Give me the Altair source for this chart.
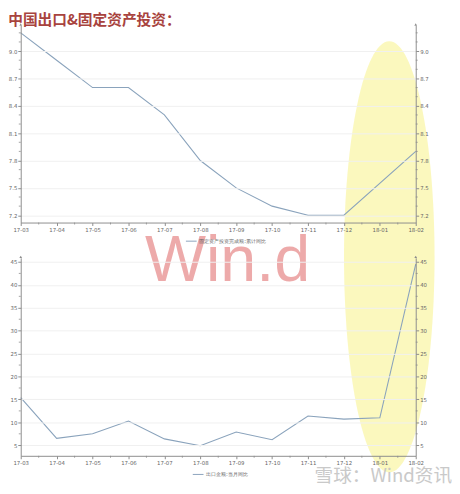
import altair as alt
import pandas as pd

# ---------------- data ----------------
months = ["17-03", "17-04", "17-05", "17-06", "17-07", "17-08", "17-09",
          "17-10", "17-11", "17-12", "18-01", "18-02"]
fai_months = ["17-03", "17-04", "17-05", "17-06", "17-07", "17-08", "17-09",
              "17-10", "17-11", "17-12", "18-02"]
fai_values = [9.2, 8.9, 8.6, 8.6, 8.3, 7.8, 7.5, 7.3, 7.2, 7.2, 7.9]
export_values = [15.4, 6.5, 7.5, 10.3, 6.4, 4.9, 7.9, 6.2, 11.4, 10.7, 11.0, 44.5]

fai_ticks = [7.2, 7.5, 7.8, 8.1, 8.4, 8.7, 9.0]
fai_minor = [7.3, 7.4, 7.6, 7.7, 7.9, 8.0, 8.2, 8.3, 8.5, 8.6, 8.8, 8.9, 9.1, 9.2]
export_ticks = [5, 10, 15, 20, 25, 30, 35, 40, 45]
export_minor = [7.5, 12.5, 17.5, 22.5, 27.5, 32.5, 37.5, 42.5]

fai_domain = [7.12, 9.28]
export_domain = [2.7, 45.9]

fai_label = "固定资产投资完成额:累计同比"
export_label = "出口金额:当月同比"
title_text = "中国出口&固定资产投资："
watermark = "Win.d"
watermark2 = "雪球：Wind资讯"

# ---------------- style ----------------
W = 403
H1 = 201
H2 = 202
LINE = "#8aa3bc"
AXIS = "#8c8c8c"
LABEL = "#666666"
FONT = "DejaVu Sans"
ELLIPSE = "M -0.21 0 A 0.21 1 0 1 1 0.21 0 A 0.21 1 0 1 1 -0.21 0 Z"

xs = alt.Scale(type="point", domain=months, padding=0)
one = pd.DataFrame({"k": [0]})
xaxis = alt.Axis(title=None, labelAngle=0, labelFontSize=5.5, labelColor=LABEL, labelFont=FONT,
                 labelPadding=2, tickSize=3, tickColor=AXIS, domainColor=AXIS, grid=False,
                 domainWidth=1, zindex=2)


def panel(df, series, domain, ticks, minor, fmt, H, legend_x, extras_before=(), extras_after=()):
    ys = alt.Scale(domain=domain, nice=False, zero=False)
    common = dict(title=None, values=ticks, format=fmt, labelFontSize=5.5, labelColor=LABEL,
                  labelFont=FONT, tickSize=3, tickColor=AXIS, domainColor=AXIS, labelPadding=1)
    yleft = alt.Axis(orient="left", grid=True, gridColor="#f0f0f0", zindex=2, **common)
    yright = alt.Axis(orient="right", grid=False, zindex=2, **common)

    base = alt.Chart(df)
    line = base.mark_line(strokeWidth=1.1).encode(
        x=alt.X("month:N", scale=xs, axis=xaxis, sort=months),
        y=alt.Y("value:Q", scale=ys, axis=yleft),
        color=alt.Color("series:N", scale=alt.Scale(domain=[series], range=[LINE]),
                        legend=alt.Legend(title=None, orient="none", legendX=legend_x, legendY=H + 13,
                                          symbolType="stroke", symbolSize=120, symbolStrokeWidth=1,
                                          labelFontSize=5.5, labelColor=LABEL, labelFont=FONT,
                                          labelOffset=2)),
    )
    right = base.mark_line(opacity=0).encode(
        x=alt.X("month:N", scale=xs, axis=xaxis, sort=months),
        y=alt.Y("value:Q", scale=ys, axis=yright),
    )
    mdf = pd.DataFrame({"v": minor})
    minor_l = alt.Chart(mdf).mark_rule(color=AXIS, strokeWidth=0.8).encode(
        y=alt.Y("v:Q", scale=ys, axis=None), x=alt.value(-2), x2=alt.value(0))
    minor_r = alt.Chart(mdf).mark_rule(color=AXIS, strokeWidth=0.8).encode(
        y=alt.Y("v:Q", scale=ys, axis=None), x=alt.value(W), x2=alt.value(W + 2))
    minor_x = alt.Chart(pd.DataFrame({"month": months[:-1]})).mark_rule(
        color=AXIS, strokeWidth=0.8, xOffset=W / 22).encode(
        x=alt.X("month:N", scale=xs, axis=xaxis, sort=months), y=alt.value(H), y2=alt.value(H + 2))
    arrow_l = alt.Chart(one).mark_point(shape="triangle-up", size=8, filled=True, color=AXIS,
                                        opacity=1).encode(x=alt.value(0), y=alt.value(-1))
    arrow_r = alt.Chart(one).mark_point(shape="triangle-up", size=8, filled=True, color=AXIS,
                                        opacity=1).encode(x=alt.value(W), y=alt.value(-1))
    layers = list(extras_before) + [minor_l, minor_r, minor_x, line, right, arrow_l, arrow_r] + list(extras_after)
    return alt.layer(*layers).resolve_scale(y="independent").properties(width=W, height=H)


df_fai = pd.DataFrame({"month": fai_months, "value": fai_values, "series": fai_label})
df_exp = pd.DataFrame({"month": months, "value": export_values, "series": export_label})

ellipse = alt.Chart(one).mark_point(shape=ELLIPSE, size=440 ** 2, filled=True, color="#faf6a8",
                                    opacity=0.75, strokeWidth=0).encode(x=alt.value(W - 27), y=alt.value(236))
wind = alt.Chart(one).mark_text(text=watermark, font="Liberation Sans", fontSize=66, color="#e06666",
                                opacity=0.55, align="center", baseline="alphabetic").encode(
    x=alt.value(211), y=alt.value(261))
xueqiu = alt.Chart(one).mark_text(text=watermark2, font="Noto Sans CJK SC", fontSize=19, color="#c4c4c4",
                                  opacity=0.9, align="right", baseline="alphabetic").encode(
    x=alt.value(440), y=alt.value(229))

top = panel(df_fai, fai_label, fai_domain, fai_ticks, fai_minor, ".1f", H1, 168,
            extras_before=[ellipse], extras_after=[wind])
bottom = panel(df_exp, export_label, export_domain, export_ticks, export_minor, "d", H2, 175,
               extras_after=[xueqiu])

chart = alt.vconcat(top, bottom, spacing=36, bounds="flush").resolve_scale(
    color="independent", y="independent"
).resolve_legend(color="independent").properties(
    title=alt.TitleParams(text=title_text, anchor="start", fontSize=15, font="Noto Sans CJK SC",
                          fontWeight="bold", color="#a8433e", offset=-5),
    padding={"left": 0, "top": 0, "right": 0, "bottom": 0},
).configure_view(stroke=None)

chart.save("out.html", embed_options={"renderer": "svg", "actions": False})
